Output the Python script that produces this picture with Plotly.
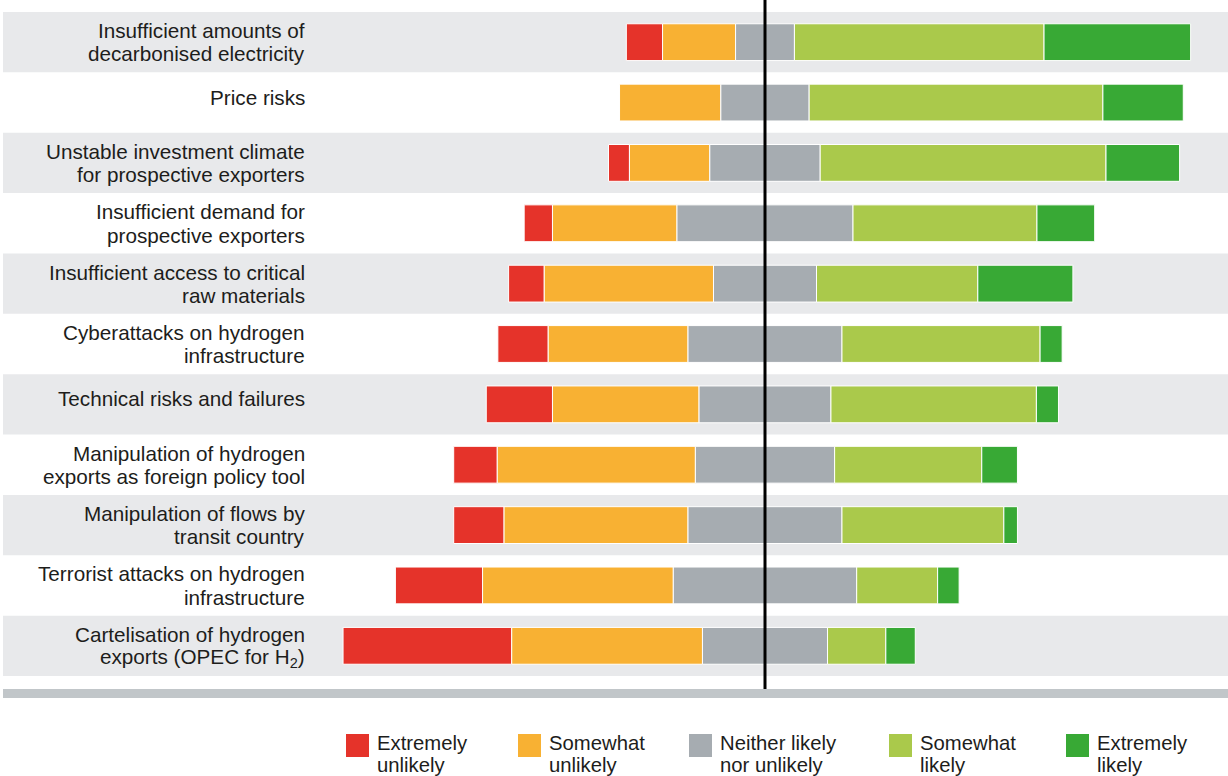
import plotly.graph_objects as go

# survey risks, top to bottom
categories = [
    "Insufficient amounts of<br>decarbonised electricity",
    "Price risks",
    "Unstable investment climate<br>for prospective exporters",
    "Insufficient demand for<br>prospective exporters",
    "Insufficient access to critical<br>raw materials",
    "Cyberattacks on hydrogen<br>infrastructure",
    "Technical risks and failures",
    "Manipulation of hydrogen<br>exports as foreign policy tool",
    "Manipulation of flows by<br>transit country",
    "Terrorist attacks on hydrogen<br>infrastructure",
    "Cartelisation of hydrogen<br>exports (OPEC for H<sub>2</sub>)",
]

# shares of answers (%)
ext_unlikely = [6.4, 0.0, 3.7, 5.0, 6.3, 8.9, 11.7, 7.7, 8.9, 15.4, 29.8]
smw_unlikely = [12.9, 17.9, 14.2, 22.0, 29.9, 24.7, 25.9, 35.0, 32.5, 33.7, 33.7]
neither = [10.4, 15.6, 19.5, 31.1, 18.2, 27.2, 23.3, 24.6, 27.2, 32.4, 22.1]
smw_likely = [44.1, 51.9, 50.5, 32.5, 28.5, 35.0, 36.3, 26.0, 28.6, 14.3, 10.3]
ext_likely = [25.9, 14.2, 13.0, 10.2, 16.8, 3.9, 3.9, 6.3, 2.4, 3.8, 5.2]

series_names = ["Extremely<br>unlikely", "Somewhat<br>unlikely", "Neither likely<br>nor unlikely",
                "Somewhat<br>likely", "Extremely<br>likely"]
COLORS = ["#E5332A", "#F8B133", "#A6ACB1", "#AAC94B", "#38A935"]

W, H = 1228, 776
L, R, T, B = 3, 0, 12, 100
PW, PH = W - L - R, H - T - B
FONT = "Liberation Sans"
TXT = "#1D1D1B"


def px_x(p):
    return (p - L) / PW


def px_y(p):
    return (H - B - p) / PH


series = [ext_unlikely, smw_unlikely, neither, smw_likely, ext_likely]
ypos = list(range(len(categories)))

# diverging: neutral centred on zero
starts = [-(a + b + c / 2) for a, b, c in zip(ext_unlikely, smw_unlikely, neither)]

fig = go.Figure()
base = starts[:]
for name, vals, col in zip(series_names, series, COLORS):
    fig.add_bar(y=ypos, x=vals, base=base[:], orientation="h", name=name,
                width=0.61, marker=dict(color=col, line=dict(color="white", width=1)),
                showlegend=False)
    base = [b + v for b, v in zip(base, vals)]

shapes = []
for i in range(0, len(categories), 2):
    shapes.append(dict(type="rect", xref="paper", yref="y", x0=0, x1=1,
                       y0=i - 0.5, y1=i + 0.5, fillcolor="#E8E9EB",
                       line_width=0, layer="below"))
# bottom rule
shapes.append(dict(type="rect", xref="paper", yref="paper", x0=0, x1=1,
                   y0=px_y(698), y1=px_y(689), fillcolor="#C1C6C9", line_width=0))
# centre line
shapes.append(dict(type="line", xref="x", yref="paper", x0=0, x1=0,
                   y0=px_y(689), y1=px_y(0), line=dict(color="black", width=3)))

annotations = []
for i, lab in enumerate(categories):
    lines = lab.split("<br>")
    shifts = [5.5] if len(lines) == 1 else [11.5, -11.8]
    for ln, sh in zip(lines, shifts):
        annotations.append(dict(text=ln, xref="paper", yref="y", x=px_x(307), y=i,
                                yshift=sh, xanchor="right", yanchor="middle",
                                showarrow=False, font=dict(family=FONT, size=20.7, color=TXT)))

# legend drawn by hand (big squares, two-line labels)
leg_x = [346, 518, 689, 889, 1066]
for lx, name, col in zip(leg_x, series_names, COLORS):
    shapes.append(dict(type="rect", xref="paper", yref="paper", x0=px_x(lx), x1=px_x(lx + 23),
                       y0=px_y(757), y1=px_y(734), fillcolor=col, line_width=0))
    for ln, py in zip(name.split("<br>"), [743, 765]):
        annotations.append(dict(text=ln, xref="paper", yref="paper", x=px_x(lx + 29), y=px_y(py),
                                xanchor="left", yanchor="middle", showarrow=False,
                                font=dict(family=FONT, size=20.3, color=TXT)))

scale = 5.66  # px per percentage point
x0 = -(765 - L) / scale
x1 = (W - R - 765) / scale

fig.update_layout(
    width=W, height=H, margin=dict(l=L, r=R, t=T, b=B),
    paper_bgcolor="white", plot_bgcolor="white",
    barmode="overlay", shapes=shapes, annotations=annotations,
    xaxis=dict(range=[x0, x1], visible=False, fixedrange=True),
    yaxis=dict(range=[len(categories) - 0.5, -0.5], visible=False, fixedrange=True),
    font=dict(family=FONT, color=TXT),
)

fig.write_html("out.html", config={"displayModeBar": False},
               post_script="document.body.style.margin='0px';")
